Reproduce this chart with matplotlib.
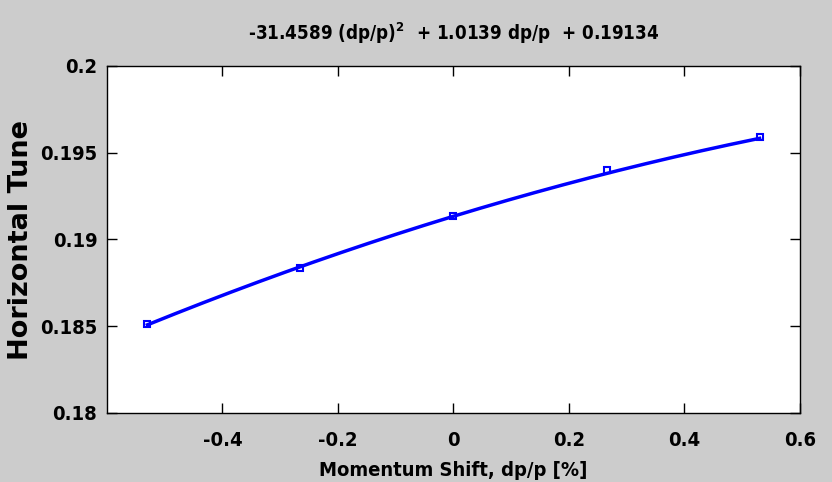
import matplotlib
matplotlib.use("Agg")
import matplotlib.pyplot as plt
import numpy as np

# measured points (dp/p in %)
dpp = [-0.53, -0.265, 0.0, 0.265, 0.53]
tune = [0.18515, 0.18838, 0.19138, 0.19398, 0.19590]
# fit coefficients from the title (dp/p as a fraction)
coef = [-31.4589, 1.0139, 0.19134]
xticks = [-0.4, -0.2, 0, 0.2, 0.4, 0.6]
yticks = [0.18, 0.185, 0.19, 0.195, 0.2]

plt.rcParams['font.family'] = ['DejaVu Sans']
plt.rcParams['font.weight'] = 'bold'
plt.rcParams['font.stretch'] = 'condensed'
plt.rcParams['mathtext.default'] = 'regular'

bg = '#cccccc'
fig = plt.figure(figsize=(8.32, 4.82), dpi=100, facecolor=bg)
ax = fig.add_axes([107/832, 1-413/482, 693/832, 347/482])

xs = np.linspace(dpp[0], dpp[-1], 200)
ax.plot(xs, np.polyval(coef, xs/100), color='#0000ff', lw=2.5)
ax.plot(dpp, tune, 's', color='#0000ff', ms=5, mfc='none', mew=1.5)

ax.set_xlim(-0.6, 0.6)
ax.set_ylim(0.18, 0.2)
ax.set_xticks(xticks)
ax.set_xticklabels(['-0.4', '-0.2', '0', '0.2', '0.4', '0.6'])
ax.set_yticks(yticks)
ax.set_yticklabels(['0.18', '0.185', '0.19', '0.195', '0.2'])
ax.tick_params(direction='in', length=7, width=1, labelsize=14.5, top=True, right=True)
ax.tick_params(axis='x', pad=13)
ax.tick_params(axis='y', pad=7)
for s in ax.spines.values():
    s.set_linewidth(1)

ax.set_title(r'-31.4589 (dp/p)$^{2}$  + 1.0139 dp/p  + 0.19134', fontsize=13.5, fontweight='bold', pad=19)
ax.set_ylabel('Horizontal Tune', fontsize=19.5, fontweight='bold', fontstretch='normal')
ax.yaxis.set_label_coords(-0.105, 0.5)
ax.set_xlabel('Momentum Shift, dp/p [%]', fontsize=14.5, fontweight='bold', labelpad=8)

fig.savefig('out.png', dpi=100, facecolor=bg)
